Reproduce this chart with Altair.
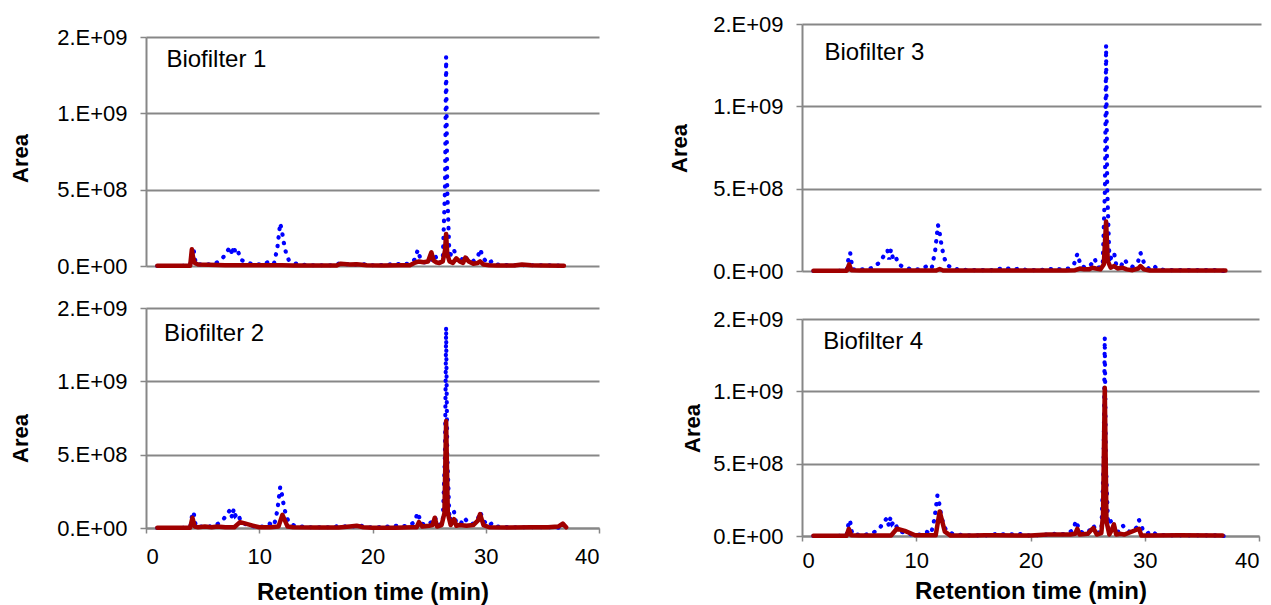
import altair as alt
import pandas as pd

# ---------------- data (areas in units of 1e8) ----------------
UNIT = 1e8

blue_t = [1.0, 2.0, 3.0, 3.9, 4.1, 4.2, 4.4, 5.0, 5.6, 6.2, 6.8, 7.2, 7.45, 7.6, 7.75, 7.9, 8.1, 8.4,
          9.0, 9.6, 10.3, 10.9, 11.3, 11.6, 11.85, 12.0, 12.15, 12.35, 12.6, 13.0, 13.6, 14.5, 15.5,
          16.5, 17.0, 17.5, 18.0, 18.5, 19.0, 19.6, 20.5, 21.5, 22.0, 22.5, 23.2, 23.7, 24.0, 24.3,
          24.8, 25.2, 25.5, 25.8, 26.2, 26.4, 26.5, 26.6, 26.8, 27.0, 27.2, 27.4, 27.8, 28.1, 28.4,
          28.8, 29.3, 29.5, 29.8, 30.2, 30.6, 31.0, 32.0, 33.0, 34.0, 35.0, 36.0, 36.9]
blue_v = [0, 0, 0, 0.05, 1.0, 1.1, 0.1, 0.1, 0.1, 0.2, 0.55, 1.0, 1.25, 0.7, 1.3, 0.85, 1.0, 0.4,
          0.2, 0.1, 0.1, 0.3, 0.15, 1.2, 2.8, 2.3, 1.6, 0.9, 0.4, 0.2, 0.1, 0.05, 0.05,
          0.05, 0.15, 0.1, 0.15, 0.1, 0.15, 0.05, 0.05, 0.1, 0.15, 0.1, 0.15, 0.4, 1.05, 0.3,
          0.2, 0.4, 0.75, 0.2, 0.3, 5.0, 13.7, 5.0, 0.5, 1.0, 1.1, 0.3, 0.3, 0.7, 0.4,
          0.25, 0.6, 1.1, 0.5, 0.15, 0.35, 0.1, 0.05, 0.05, 0.05, 0.05, 0.05, 0]

red1_t = [1.0, 3.9, 4.05, 4.15, 4.3, 4.6, 5.5, 7.0, 9.0, 11.0, 12.0, 13.0, 15.0, 16.8, 17.2, 18.0,
          18.6, 19.5, 21.0, 22.5, 23.3, 23.7, 24.1, 24.5, 24.9, 25.2, 25.4, 25.6, 25.9, 26.2, 26.4,
          26.5, 26.6, 26.8, 27.1, 27.4, 27.7, 28.0, 28.2, 28.5, 28.9, 29.3, 29.5, 29.8, 30.3, 31.0,
          32.5, 33.2, 34.0, 35.0, 36.9]
red1_v = [0.02, 0.02, 1.1, 0.6, 0.2, 0.1, 0.08, 0.05, 0.05, 0.05, 0.05, 0.04, 0.03, 0.03, 0.15, 0.1,
          0.12, 0.05, 0.03, 0.05, 0.05, 0.2, 0.3, 0.25, 0.3, 0.9, 0.35, 0.25, 0.2, 0.3, 1.0,
          2.1, 0.8, 0.3, 0.2, 0.5, 0.3, 0.2, 0.55, 0.3, 0.15, 0.2, 0.3, 0.1, 0.05, 0.03,
          0.03, 0.1, 0.05, 0.03, 0.02]

red2_t = [1.0, 3.9, 4.1, 4.3, 4.6, 5.2, 5.8, 6.3, 7.0, 7.8, 8.3, 8.8, 9.5, 10.0, 11.0, 11.7, 12.05,
          12.5, 13.0, 15.0, 17.0, 18.0, 18.6, 19.2, 20.0, 22.0, 23.5, 23.9, 24.1, 24.4, 25.0, 25.3,
          25.5, 25.7, 26.1, 26.35, 26.5, 26.65, 26.9, 27.2, 27.4, 27.7, 28.3, 28.9, 29.3, 29.5,
          29.8, 30.3, 32.0, 34.0, 35.5, 36.4, 36.8, 37.1]
red2_v = [0.02, 0.02, 0.7, 0.1, 0.05, 0.1, 0.05, 0.1, 0.05, 0.05, 0.4, 0.3, 0.15, 0.05, 0.05, 0.1, 0.9,
          0.1, 0.05, 0.03, 0.03, 0.1, 0.15, 0.05, 0.02, 0.02, 0.05, 0.05, 0.4, 0.1, 0.15, 0.2,
          0.7, 0.1, 0.2, 1.0, 7.3, 1.0, 0.2, 0.6, 0.15, 0.2, 0.15, 0.2, 0.5, 0.95,
          0.2, 0.05, 0.03, 0.05, 0.05, 0.1, 0.3, 0.05]

red3_t = [1.0, 3.9, 4.1, 4.3, 5.0, 8.0, 11.7, 12.0, 12.3, 14.0, 17.0, 20.0, 23.0, 23.8, 24.2, 24.6,
          25.0, 25.3, 25.6, 26.0, 26.3, 26.5, 26.65, 26.9, 27.2, 27.5, 27.9, 28.3, 28.8, 29.3, 29.5,
          29.8, 30.3, 33.0, 36.9]
red3_v = [0.02, 0.02, 0.4, 0.05, 0.03, 0.03, 0.03, 0.12, 0.03, 0.03, 0.03, 0.03, 0.03, 0.05, 0.15, 0.1,
          0.1, 0.2, 0.15, 0.1, 0.4, 3.0, 0.6, 0.2, 0.3, 0.15, 0.2, 0.1, 0.05, 0.15, 0.3,
          0.1, 0.03, 0.03, 0.03]

red4_t = [1.0, 3.9, 4.1, 4.3, 5.0, 7.8, 8.3, 9.0, 9.9, 11.7, 12.05, 12.5, 13.0, 15.0, 16.0, 17.0,
          20.0, 21.5, 23.5, 23.9, 24.1, 24.3, 25.0, 25.3, 25.5, 25.8, 26.2, 26.35, 26.5, 26.65,
          26.9, 27.1, 27.3, 27.5, 27.9, 28.2, 29.5, 29.7, 30.2, 33.0, 36.8]
red4_v = [0.02, 0.02, 0.5, 0.05, 0.03, 0.03, 0.5, 0.35, 0.05, 0.05, 1.7, 0.3, 0.03, 0.03, 0.05, 0.05,
          0.03, 0.1, 0.1, 0.15, 0.5, 0.1, 0.15, 0.4, 0.55, 0.1, 0.2, 1.5, 10.25, 1.0,
          0.1, 0.4, 0.8, 0.1, 0.15, 0.1, 0.5, 0.03, 0.03, 0.05, 0.03]

panel_names = ["Biofilter 1", "Biofilter 2", "Biofilter 3", "Biofilter 4"]
label_pos_t = [1.8, 1.6, 1.95, 1.85]
label_pos_v = [13.5, 13.2, 13.25, 13.4]

y_tick_values = [0, 5e8, 1e9, 1.5e9]
y_tick_labels = ["0.E+00", "5.E+08", "1.E+09", "2.E+09"]
x_tick_values = [0, 10, 20, 30, 40]

x_title = "Retention time (min)"
y_title = "Area"

FONT = "Liberation Sans"
GRID = "#878787"
BLUE = "#0000ff"
RED = "#a00000"

label_expr = " : ".join(
    f"datum.value == {v} ? '{l}'" for v, l in zip(y_tick_values[:-1], y_tick_labels[:-1])
) + f" : '{y_tick_labels[-1]}'"


def df_of(t, v):
    return pd.DataFrame({"t": t, "v": [x * UNIT for x in v]})


def panel(i, red_t, red_v, width, height, yrange, bottom, area_xy, xtitle_y=0, xlab_pad=12):
    blue = df_of(blue_t, blue_v)
    red = df_of(red_t, red_v)
    lab = pd.DataFrame({"t": [label_pos_t[i]], "v": [label_pos_v[i] * UNIT], "name": [panel_names[i]]})

    if bottom:
        xaxis = alt.Axis(values=x_tick_values, grid=False, domainColor=GRID, domainWidth=2,
                         tickColor=GRID, tickWidth=1.5, tickSize=5, labelFontSize=22,
                         labelColor="#000000", labelPadding=xlab_pad, labelFont=FONT,
                         title=x_title, titleFontSize=24, titleFontWeight="bold",
                         titleColor="#000000", titleFont=FONT, titleBaseline="alphabetic",
                         titleY=xtitle_y, titleAnchor="middle")
    else:
        xaxis = None

    x = alt.X("t:Q", scale=alt.Scale(domain=[0, 40], nice=False, zero=False), axis=xaxis)
    y = alt.Y("v:Q",
              scale=alt.Scale(domain=[0, 1.5e9], nice=False, range=yrange),
              axis=alt.Axis(values=y_tick_values, labelExpr=label_expr, grid=True, gridColor=GRID,
                            gridWidth=2, domainColor=GRID, domainWidth=2, tickColor=GRID,
                            tickWidth=1.5, tickSize=6, labelFontSize=22, labelColor="#000000",
                            labelPadding=13, labelFont=FONT, title=y_title, titleFontSize=22,
                            titleFontWeight="bold", titleColor="#000000", titleFont=FONT,
                            titleAngle=270, titleAlign="center", titleBaseline="middle",
                            titleX=area_xy[0], titleY=area_xy[1]))

    b = alt.Chart(blue).mark_line(color=BLUE, strokeWidth=4.2, strokeDash=[0.4, 8.2],
                                  strokeCap="round").encode(x=x, y=y)
    r = alt.Chart(red).mark_line(color=RED, strokeWidth=4.5, strokeJoin="round",
                                 strokeCap="round").encode(x=x, y=y)
    t = alt.Chart(lab).mark_text(align="left", baseline="middle", fontSize=24, font=FONT,
                                 color="#000000").encode(x=x, y=y, text="name:N")
    return alt.layer(b, r, t).properties(width=width, height=height)


p1 = panel(0, red1_t, red1_v, 453, 242, [242, 13], False, (-126, 134))
p3 = panel(2, red3_t, red3_v, 459, 247, [247, 0], False, (-123, 124))
p2 = panel(1, red2_t, red2_v, 453, 220, [220, 0], True, (-126, 130), xtitle_y=71, xlab_pad=13)
p4 = panel(3, red4_t, red4_v, 457, 228, [228, 11], True, (-110, 120), xtitle_y=62, xlab_pad=9)

chart = alt.concat(
    p1, p3, p2, p4, columns=2,
    spacing={"row": 37, "column": 203}, align="each", bounds="flush",
).properties(
    padding={"left": 0, "top": 4, "right": 0, "bottom": 0}
).configure(font=FONT, background="#ffffff").configure_view(stroke="transparent")

chart.save("out.html", embed_options={"renderer": "svg", "actions": False})
